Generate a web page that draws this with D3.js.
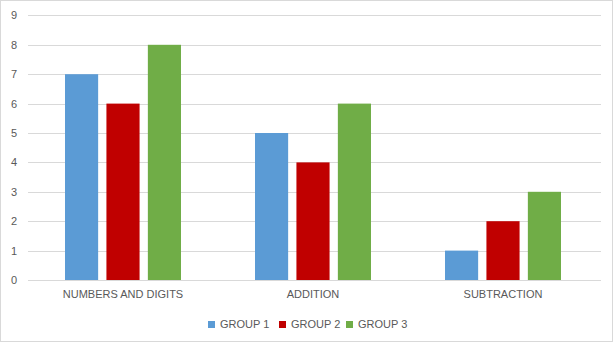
<!DOCTYPE html>
<html><head><meta charset="utf-8">
<script src="https://cdn.jsdelivr.net/npm/d3@7"></script>
<style>body{margin:0;background:#fff}svg{display:block}text{font-family:"Liberation Sans",Arial,sans-serif;fill:#595959}</style>
</head><body>
<script>
const categories = ["NUMBERS AND DIGITS", "ADDITION", "SUBTRACTION"];
const seriesNames = ["GROUP 1", "GROUP 2", "GROUP 3"];
const group1 = [7, 5, 1];
const group2 = [6, 4, 2];
const group3 = [8, 6, 3];
const yTicks = [0, 1, 2, 3, 4, 5, 6, 7, 8, 9];
const colors = ["#5B9BD5", "#C00000", "#70AD47"];

(function () {
const W = 615, H = 344;
const svg = d3.select("body").append("svg").attr("width", W).attr("height", H);
svg.append("rect").attr("x", 0.5).attr("y", 0.5).attr("width", W - 3).attr("height", H - 3)
  .attr("fill", "#fff").attr("stroke", "#d9d9d9");

const mLeft = 28, mRight = 598, mTop = 15.4, mBottom = 280;
const y = d3.scaleLinear().domain([0, 9]).range([mBottom, mTop]);
const x0 = d3.scaleBand().domain(categories).range([mLeft, mRight]).paddingInner(0).paddingOuter(0);
const x1 = d3.scaleBand().domain(seriesNames).range([37, x0.bandwidth() - 37]).paddingInner(0.2).paddingOuter(0);

svg.append("g").selectAll("line").data(yTicks).join("line")
  .attr("x1", mLeft).attr("x2", 601)
  .attr("y1", d => Math.round(y(d)) + 0.5).attr("y2", d => Math.round(y(d)) + 0.5)
  .attr("stroke", "#d9d9d9").attr("stroke-width", 1);

const yAxis = d3.axisLeft(y).tickValues(yTicks).tickSize(0).tickPadding(0);
const gy = svg.append("g").attr("transform", "translate(17,0)").call(yAxis);
gy.select(".domain").remove();
gy.selectAll("text").style("font-size", "11px").style("fill", "#595959").style("font-family", "Liberation Sans, Arial, sans-serif");

const series = [group1, group2, group3];
const data = categories.map((c, i) => ({ c, vals: seriesNames.map((s, j) => ({ s, v: series[j][i], j })) }));

const g = svg.append("g").selectAll("g").data(data).join("g")
  .attr("transform", d => `translate(${x0(d.c)},0)`);
g.selectAll("rect").data(d => d.vals).join("rect")
  .attr("x", d => x1(d.s)).attr("width", x1.bandwidth())
  .attr("y", d => y(d.v)).attr("height", d => y(0) - y(d.v))
  .attr("fill", d => colors[d.j]);

const xAxis = d3.axisBottom(x0).tickSize(0).tickPadding(0);
const gx = svg.append("g").attr("transform", `translate(0,${mBottom + 10})`).call(xAxis);
gx.select(".domain").remove();
gx.selectAll("text").style("font-size", "11px").style("fill", "#595959").style("font-family", "Liberation Sans, Arial, sans-serif");

const legendX = [208, 279, 346];
const lg = svg.append("g").selectAll("g").data(seriesNames).join("g")
  .attr("transform", (d, i) => `translate(${legendX[i]},321)`);
lg.append("rect").attr("width", 7).attr("height", 7).attr("fill", (d, i) => colors[i]);
lg.append("text").attr("x", 12).attr("y", 7).style("font-size", "11px").text(d => d);
})();
</script>
</body></html>
